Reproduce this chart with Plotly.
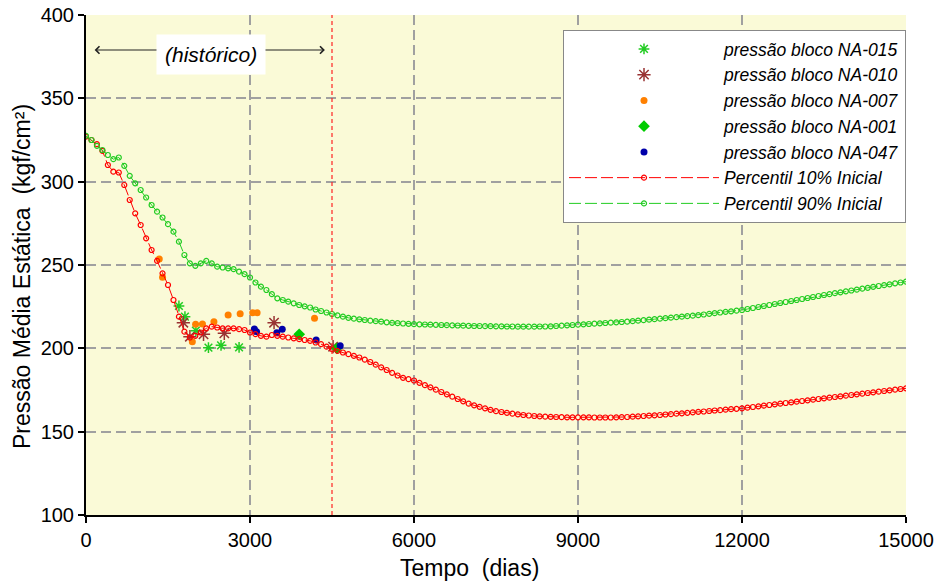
import plotly.graph_objects as go

# ---- data ----
days = list(range(0, 15001, 100))

p10 = [327, 325, 322.5, 318.5, 310, 306, 305.5, 298, 289, 281,
       274, 266, 259, 252.5, 245, 238, 229, 219, 210, 206.5,
       207.5, 209.5, 212, 213, 212.5, 212, 212, 212, 211.5, 211,
       209.5, 208.5, 207.5, 207, 208, 207.5, 207, 206.5, 206, 205.5,
       205, 204.5, 203.5, 202.5, 201, 199.5, 198.5, 197.5, 196.5, 195.5,
       194.5, 193.2, 191.8, 190.2, 188.6, 187, 185.3, 183.7, 182.3, 181.5,
       180.7, 179.3, 177.9, 176.6, 175.2, 173.8, 172.4, 171, 169.6, 168.2,
       166.8, 165.8, 164.9, 164, 163.1, 162.3, 161.8, 161.3, 160.8, 160.4,
       160, 159.7, 159.4, 159.2, 159, 158.9, 158.8, 158.7, 158.6, 158.6,
       158.6, 158.6, 158.6, 158.5, 158.5, 158.5, 158.5, 158.6, 158.7, 158.8,
       159, 159.2, 159.4, 159.6, 159.8, 160, 160.3, 160.5, 160.8, 161,
       161.3, 161.6, 161.9, 162.1, 162.4, 162.7, 162.9, 163.2, 163.5, 163.7,
       164, 164.4, 164.8, 165.2, 165.6, 166, 166.4, 166.8, 167.2, 167.6,
       168, 168.4, 168.8, 169.2, 169.6, 170, 170.4, 170.8, 171.2, 171.6,
       172, 172.4, 172.8, 173.2, 173.6, 174, 174.4, 174.8, 175.2, 175.6,
       176]

p90 = [327.5, 325, 321.5, 319, 316, 313.5, 314.5, 309.5, 303.5, 299,
       295, 290.5, 286, 282, 278.5, 274.5, 270, 264, 256, 251,
       249.5, 251, 252.5, 251, 249, 248.5, 248, 247.5, 246, 244.5,
       242.5, 239.5, 237, 235, 232.5, 230, 229, 228, 227, 226,
       225.2, 224.5, 223.3, 222.4, 221.5, 220.6, 219.8, 219, 218.3, 217.8,
       217.4, 217, 216.6, 216.3, 216, 215.6, 215.3, 215.1, 214.9, 214.7,
       214.5, 214.4, 214.3, 214.2, 214.1, 214, 213.9, 213.8, 213.7, 213.6,
       213.5, 213.4, 213.4, 213.3, 213.3, 213.2, 213.2, 213.1, 213.1, 213,
       213, 213, 213, 213.1, 213.1, 213.2, 213.4, 213.6, 213.8, 214,
       214.2, 214.4, 214.6, 214.8, 215, 215.2, 215.4, 215.6, 215.8, 216,
       216.3, 216.6, 216.9, 217.2, 217.5, 217.8, 218.1, 218.4, 218.7, 219,
       219.3, 219.6, 219.9, 220.3, 220.7, 221.1, 221.5, 221.9, 222.2, 222.6,
       223, 223.6, 224.2, 224.8, 225.4, 226, 226.6, 227.2, 227.8, 228.4,
       229, 229.6, 230.2, 230.8, 231.4, 232, 232.5, 233.1, 233.6, 234.2,
       234.7, 235.2, 235.8, 236.3, 236.9, 237.4, 237.9, 238.4, 239, 239.5,
       240]

na015_days = [1700, 1810, 2010, 2240, 2470, 2800]
na015_p = [225.4, 219, 210.6, 200.4, 201.8, 200.6]

na010_days = [1780, 1900, 2150, 2530, 3440, 4520]
na010_p = [215.4, 207, 208.4, 209, 215.4, 201]

na007_days = [1340, 1400, 1945, 2005, 2130, 2340, 2600, 2820, 3050, 3130, 4180]
na007_p = [253.6, 242.6, 204, 214.4, 214.6, 216, 220, 220.8, 221.4, 221.4, 218]

na001_days = [3900, 4590]
na001_p = [208.4, 200]

na047_days = [3080, 3120, 3490, 3590, 4210, 4650]
na047_p = [211.6, 210, 209.4, 211.4, 205, 201.6]

x_ticks = [0, 3000, 6000, 9000, 12000, 15000]
x_labels = ["0", "3000", "6000", "9000", "12000", "15000"]
y_ticks = [100, 150, 200, 250, 300, 350, 400]

hist_end = 4500
hist_arrow = [130, 4370]
hist_level = 379

FONT = "Liberation Sans, Arial, sans-serif"

L, R, T, B = 86, 31, 15, 67
W, H = 937, 582


def px_to_paper(px, py):
    return (px - L) / (W - L - R), (H - B - py) / (H - T - B)


fig = go.Figure()

fig.add_trace(go.Scatter(x=na015_days, y=na015_p, mode="markers",
                         name="pressão bloco NA-015",
                         marker=dict(symbol="asterisk-open", size=9, color="#22CC22",
                                     line=dict(color="#22CC22", width=1.5))))
fig.add_trace(go.Scatter(x=na010_days, y=na010_p, mode="markers",
                         name="pressão bloco NA-010",
                         marker=dict(symbol="asterisk-open", size=11, color="#993333",
                                     line=dict(color="#993333", width=1.5))))
fig.add_trace(go.Scatter(x=na007_days, y=na007_p, mode="markers",
                         name="pressão bloco NA-007",
                         marker=dict(symbol="circle", size=7, color="#FF8000")))
fig.add_trace(go.Scatter(x=na001_days, y=na001_p, mode="markers",
                         name="pressão bloco NA-001",
                         marker=dict(symbol="diamond", size=9, color="#00CC00")))
fig.add_trace(go.Scatter(x=na047_days, y=na047_p, mode="markers",
                         name="pressão bloco NA-047",
                         marker=dict(symbol="circle", size=7, color="#0000AA")))
fig.add_trace(go.Scatter(x=days, y=p10, mode="lines+markers",
                         name="Percentil 10% Inicial",
                         line=dict(color="#FF0000", width=1, dash="12px,4px"),
                         marker=dict(symbol="circle-open", size=5, color="#FF0000",
                                     line=dict(width=1.2))))
fig.add_trace(go.Scatter(x=days, y=p90, mode="lines+markers",
                         name="Percentil 90% Inicial",
                         line=dict(color="#22CC22", width=1, dash="12px,4px"),
                         marker=dict(symbol="circle-open", size=5, color="#22CC22",
                                     line=dict(width=1.2))))

# end of history line
fig.add_shape(type="line", xref="x", yref="paper", x0=hist_end, x1=hist_end, y0=0, y1=1,
              line=dict(color="#FF2222", width=1.2, dash="4px,3px"))

# history arrow
fig.add_annotation(x=hist_arrow[1], y=hist_level, ax=hist_arrow[0], ay=hist_level,
                   xref="x", yref="y", axref="x", ayref="y", text="",
                   showarrow=True, arrowside="end+start", arrowhead=4, startarrowhead=4,
                   arrowsize=1.2, startarrowsize=1.2, arrowwidth=1.2, arrowcolor="#222222")
fig.add_annotation(x=2286, y=376.6,
                   xref="x", yref="y", text="<i>(histórico)</i>", showarrow=False,
                   bgcolor="white", borderpad=8,
                   font=dict(family=FONT, size=21, color="black"))

# axis titles
xt = px_to_paper(469, 568)
fig.add_annotation(x=xt[0], y=xt[1], xref="paper", yref="paper", text="Tempo  (dias)",
                   xanchor="center", yanchor="middle",
                   showarrow=False, font=dict(family=FONT, size=23, color="black"))
yt = px_to_paper(22, 277)
fig.add_annotation(x=yt[0], y=yt[1], xref="paper", yref="paper",
                   text="Pressão Média Estática  (kgf/cm²)", textangle=-90,
                   xanchor="center", yanchor="middle",
                   showarrow=False, font=dict(family=FONT, size=23, color="black"))

fig.update_layout(
    width=W, height=H,
    margin=dict(l=L, r=R, t=T, b=B, autoexpand=False),
    paper_bgcolor="white",
    plot_bgcolor="#FAFAD7",
    font=dict(family=FONT, size=20, color="black"),
    showlegend=True,
    legend=dict(x=1.0, y=0.97, xanchor="right", yanchor="top",
                bgcolor="white", bordercolor="#888888", borderwidth=1,
                font=dict(family=FONT, size=17.5, color="black", style="italic"),
                itemwidth=150, tracegroupgap=0),
    xaxis=dict(range=[0, 15000], tickvals=x_ticks, ticktext=x_labels, automargin=False,
               showgrid=True, gridcolor="#A0A0A0", gridwidth=1.5, griddash="10px,5px",
               zeroline=False, showline=True, linecolor="black", linewidth=2,
               ticks="outside", ticklen=6, tickwidth=2, tickcolor="black"),
    yaxis=dict(range=[100, 400], tickvals=y_ticks, automargin=False,
               showgrid=True, gridcolor="#A0A0A0", gridwidth=1.5, griddash="10px,5px",
               zeroline=False, showline=True, linecolor="black", linewidth=2,
               ticks="outside", ticklen=6, tickwidth=2, tickcolor="black"),
)

fig.write_html("out.html", config={"displayModeBar": False},
               post_script="document.body.style.margin='0';")
